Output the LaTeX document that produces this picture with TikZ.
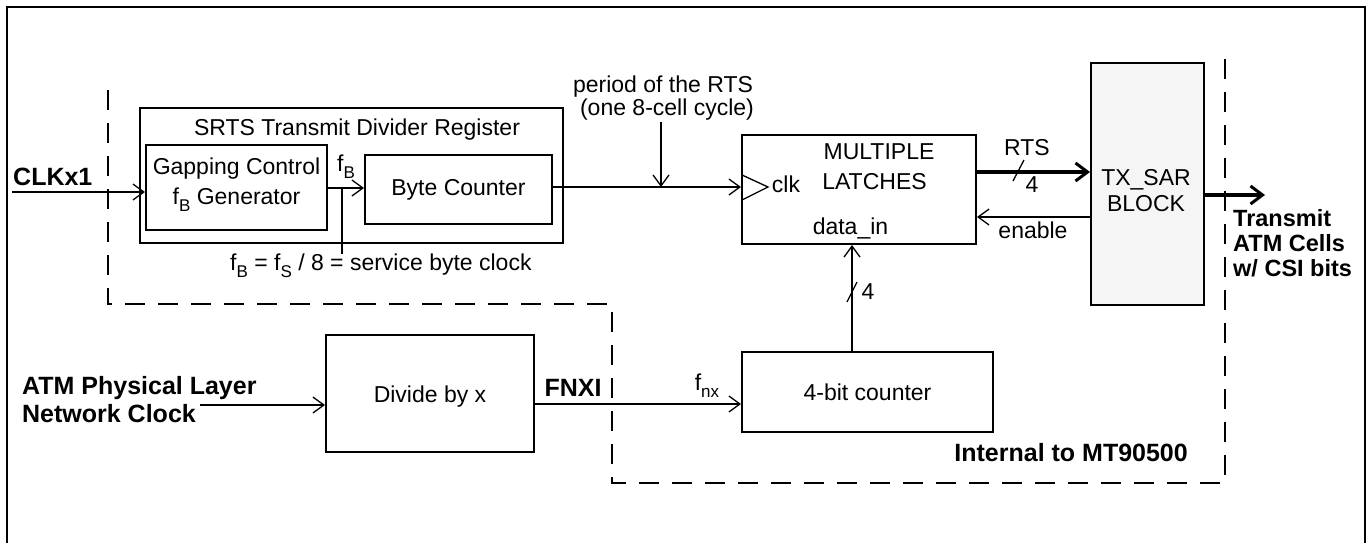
\documentclass[tikz,border=0pt]{standalone}
\usepackage{fontspec}
\setmainfont{Liberation Sans}
\usetikzlibrary{arrows.meta}
\newcommand\mysub[1]{\raisebox{-0.3em}{\fontsize{17}{17}\selectfont #1}}
\begin{document}
\begin{tikzpicture}[x=1pt,y=-1pt,
  every node/.style={font=\fontsize{23}{27}\selectfont, inner sep=0pt},
  box/.style={draw, line width=2pt, inner sep=0pt, align=center},
  lbl/.style={align=center},
  bld/.style={font=\fontsize{25}{28}\selectfont\bfseries, align=left},
  wire/.style={line width=1.8pt},
  arr/.style={line width=1.8pt, -{Straight Barb[length=11pt,width=16pt,line width=1.3pt]}},
  thickarr/.style={line width=3.5pt, -{Straight Barb[length=12pt,width=18pt,line width=3pt]}},
  bound/.style={line width=2pt, dash pattern=on 20pt off 13pt}]
\useasboundingbox (0,0) rectangle (1369,542);
\clip (0,0) rectangle (1369,542);
% outer frame
\draw[line width=2pt] (7,600) -- (7,7) -- (1365,7) -- (1365,600);
% internal boundary
\draw[bound] (108,90) -- (108,304) -- (612,304) -- (612,483) -- (1225,483) -- (1225,59);

% boxes
\node[box, minimum width=423pt, minimum height=135pt] (srts) at (351.5,175.5) {};
\node[anchor=base] (srtst) at (357,135) {SRTS Transmit Divider Register};
\node[box, minimum width=181pt, minimum height=85pt] (gap) at (236.5,187.5) {};
\node[lbl] (gapt) at (236.5,185) {Gapping Control\\[3pt]f\mysub{B} Generator};
\node[box, minimum width=187pt, minimum height=69pt] (byte) at (458.5,189.5) {Byte Counter};
\node[box, minimum width=234pt, minimum height=109pt] (latch) at (859,189.5) {};
\node (mult) at (879,152) {MULTIPLE};
\node (latc) at (874.5,182) {LATCHES};
\node (datain) at (850.5,228) {data\_in};
\node (clk) at (786,184) {clk};
\node[box, fill=black!4, minimum width=113pt, minimum height=242pt] (tx) at (1147.5,184) {};
\node[lbl] (txt) at (1146,191) {TX\_SAR\\[-1pt]BLOCK};
\node[box, minimum width=208pt, minimum height=117pt] (div) at (430,393.5) {};
\node (divt) at (430,397) {Divide by x};
\node[box, minimum width=251pt, minimum height=80pt] (cnt) at (867.5,392) {4-bit counter};

% clock triangle
\draw[line width=1.3pt] (742,175) -- (768,187) -- (742,200);

% labels
\node[bld, anchor=base west] (clkx) at (13,185) {CLKx1};
\node (fb) at (346,167) {f\mysub{B}};
\node[anchor=west] (fbeq) at (230,266) {f\mysub{B} = f\mysub{S} / 8 = service byte clock};
\node[lbl] (per) at (663,98) {period of the RTS\\[-4pt]\hspace*{8pt}(one 8-cell cycle)};
\node (rts) at (1027,148) {RTS};
\node (rts4) at (1032,185) {4};
\node (en) at (1033,230) {enable};
\node[font=\fontsize{23.5}{25}\selectfont\bfseries, align=left, anchor=north west] (tm) at (1233,209) {Transmit\\ATM Cells\\w/ CSI bits};
\node[bld, anchor=north west] (atm) at (22,376) {ATM Physical Layer\\Network Clock};
\node[bld] (fnxi) at (573,388) {FNXI};
\node (fnx) at (707,386) {f\mysub{nx}};
\node (d4) at (868,292) {4};
\node[bld, anchor=east] (intl) at (1188,453) {Internal to MT90500};

% connectors
\coordinate (clkin) at (12,192);
\draw[arr] (clkin) -- (clkin -| gap.west);
\coordinate (g1) at (327,188);
\draw[arr] (g1) -- (g1 -| byte.west);
\coordinate (tk1) at (342,188);
\coordinate (tk2) at (342,254);
\draw[wire] (tk1) -- (tk2);
\coordinate (b1) at (552,187);
\draw[arr] (b1) -- (b1 -| latch.west);
\coordinate (p1) at (661,122);
\coordinate (p2) at (661,187);
\draw[arr] (p1) -- (p2);
\coordinate (r1) at (976,172);
\draw[thickarr] (r1) -- (r1 -| tx.west);
\draw[line width=1.3pt] (1013,181) -- (1024,160);
\coordinate (e1) at (1091,217);
\draw[arr] (e1) -- (e1 -| latch.east);
\coordinate (o1) at (1204,195);
\coordinate (o2) at (1265,195);
\draw[thickarr] (o1) -- (o2);
\coordinate (a1) at (200,405);
\draw[arr] (a1) -- (a1 -| div.west);
\coordinate (f1) at (534,404);
\draw[arr] (f1) -- (f1 -| cnt.west);
\coordinate (c1) at (852,352);
\draw[arr] (c1) -- (c1 |- latch.south);
\draw[line width=1.3pt] (847,302) -- (857,282);
\end{tikzpicture}
\end{document}
